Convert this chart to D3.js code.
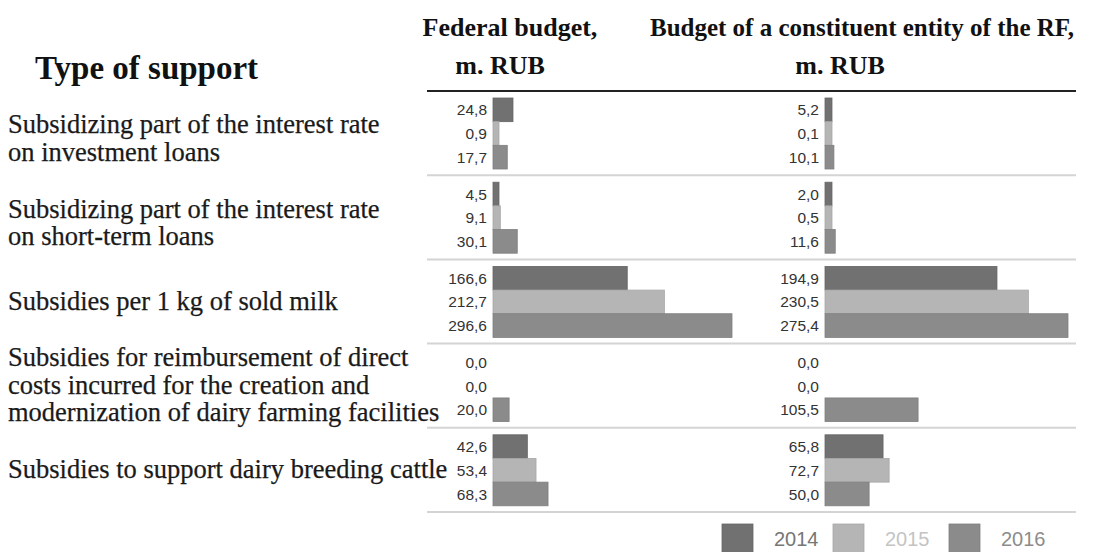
<!DOCTYPE html>
<html>
<head>
<meta charset="utf-8">
<script src="https://cdn.jsdelivr.net/npm/d3@7/dist/d3.min.js"></script>
<style>
  html, body { margin: 0; padding: 0; background: #fff; }
  svg { display: block; }
</style>
</head>
<body>
<svg id="chart" width="1120" height="552"></svg>
<script>
// ---------- data ----------
const categories = ["invest", "short", "milk", "direct", "breeding"];
const categoryLabels = [
  ["Subsidizing part of the interest rate", "on investment loans"],
  ["Subsidizing part of the interest rate", "on short-term loans"],
  ["Subsidies per 1 kg of sold milk"],
  ["Subsidies for reimbursement of direct", "costs incurred for the creation and", "modernization of dairy farming facilities"],
  ["Subsidies to support dairy breeding cattle"]
];
const years = ["2014", "2015", "2016"];
const federal2014 = [24.8, 4.5, 166.6, 0.0, 42.6];
const federal2015 = [0.9, 9.1, 212.7, 0.0, 53.4];
const federal2016 = [17.7, 30.1, 296.6, 20.0, 68.3];
const regional2014 = [5.2, 2.0, 194.9, 0.0, 65.8];
const regional2015 = [0.1, 0.5, 230.5, 0.0, 72.7];
const regional2016 = [10.1, 11.6, 275.4, 105.5, 50.0];
const rowHeader = "Type of support";
const federalHeader = ["Federal budget,", "m. RUB"];
const regionalHeader = ["Budget of a constituent entity of the RF,", "m. RUB"];

// ---------- styles ----------
const fills = { "2014": "#717171", "2015": "#b5b5b5", "2016": "#8b8b8b" };
const strokes = { "2014": "#666666", "2015": "#a9a9a9", "2016": "#7f7f7f" };
const legendText = { "2014": "#767676", "2015": "#c4c4c4", "2016": "#8c8c8c" };
const serif = "'Liberation Serif', 'Times New Roman', serif";
const sans = "'Liberation Sans', Arial, Helvetica, sans-serif";

const svg = d3.select("#chart");
const fmt = v => d3.format(".1f")(v).replace(".", ",");

// ---------- scales ----------
const y = d3.scaleBand().domain(categories).range([91, 512]).paddingInner(0).paddingOuter(0);
const yInner = d3.scaleBand().domain(years).range([7, 78]);

const federalSeries = [federal2014, federal2015, federal2016];
const regionalSeries = [regional2014, regional2015, regional2016];

const panels = [
  { series: federalSeries, x0: 493, width: 239, minW: 6 },
  { series: regionalSeries, x0: 825, width: 243, minW: 7 }
];
panels.forEach(p => {
  const maxV = d3.max(p.series.flat());
  p.x = d3.scaleLinear().domain([0, maxV]).range([p.x0, p.x0 + p.width]);
});

// ---------- headers ----------
svg.append("text").attr("x", 35).attr("y", 79)
  .attr("font-family", serif).attr("font-weight", "bold").attr("font-size", 33)
  .attr("fill", "#111").text(rowHeader);

svg.append("text").attr("x", 510).attr("y", 36).attr("text-anchor", "middle")
  .attr("font-family", serif).attr("font-weight", "bold").attr("font-size", 26)
  .attr("fill", "#111").text(federalHeader[0]);
svg.append("text").attr("x", 500).attr("y", 74).attr("text-anchor", "middle")
  .attr("font-family", serif).attr("font-weight", "bold").attr("font-size", 26)
  .attr("fill", "#111").text(federalHeader[1]);
svg.append("text").attr("x", 862).attr("y", 36).attr("text-anchor", "middle")
  .attr("font-family", serif).attr("font-weight", "bold").attr("font-size", 25)
  .attr("fill", "#111").text(regionalHeader[0]);
svg.append("text").attr("x", 840).attr("y", 74).attr("text-anchor", "middle")
  .attr("font-family", serif).attr("font-weight", "bold").attr("font-size", 26)
  .attr("fill", "#111").text(regionalHeader[1]);

// header rule
svg.append("line").attr("x1", 427).attr("x2", 1076).attr("y1", y.range()[0]).attr("y2", y.range()[0])
  .attr("stroke", "#222").attr("stroke-width", 2);

// group separators
svg.append("g").selectAll("line").data(categories).join("line")
  .attr("x1", 427).attr("x2", 1076)
  .attr("y1", d => y(d) + y.bandwidth()).attr("y2", d => y(d) + y.bandwidth())
  .attr("stroke", "#d4d4d4").attr("stroke-width", 2);

// ---------- row labels ----------
const rowG = svg.append("g");
categories.forEach((c, i) => {
  const lines = categoryLabels[i];
  const n = lines.length;
  const center = y(c) + y.bandwidth() / 2;
  const shift = n === 2 ? 6 : 0;
  lines.forEach((ln, k) => {
    rowG.append("text")
      .attr("x", 8)
      .attr("y", center + 8 + shift + (k - (n - 1) / 2) * 27.5)
      .attr("font-family", serif).attr("font-size", 26.5)
      .attr("fill", "#1a1a1a").attr("stroke", "#1a1a1a").attr("stroke-width", 0.25)
      .text(ln);
  });
});

// ---------- bars ----------
panels.forEach(p => {
  const g = svg.append("g");
  categories.forEach((c, ci) => {
    years.forEach((yr, yi) => {
      const v = p.series[yi][ci];
      const top = y(c) + yInner(yr);
      const w = v > 0 ? Math.max(p.x(v) - p.x(0), p.minW) : 0;
      if (w > 0) {
        g.append("rect")
          .attr("x", p.x(0)).attr("y", top)
          .attr("width", w).attr("height", yInner.bandwidth())
          .attr("fill", fills[yr]).attr("stroke", strokes[yr]).attr("stroke-width", 0.8);
      }
      g.append("text")
        .attr("x", p.x(0) - 6).attr("y", top + yInner.bandwidth() / 2)
        .attr("dy", "0.36em").attr("text-anchor", "end")
        .attr("font-family", sans).attr("font-size", 15.5)
        .attr("fill", "#333").text(fmt(v));
    });
  });
});

// ---------- legend ----------
const legendX = { "2014": 722, "2015": 833, "2016": 949 };
const leg = svg.append("g");
years.forEach(yr => {
  leg.append("rect").attr("x", legendX[yr]).attr("y", 524).attr("width", 31).attr("height", 32)
    .attr("fill", fills[yr]).attr("stroke", strokes[yr]).attr("stroke-width", 0.8);
  leg.append("text").attr("x", legendX[yr] + 52).attr("y", 546)
    .attr("font-family", sans).attr("font-size", 20)
    .attr("fill", legendText[yr]).text(yr);
});
</script>
</body>
</html>
